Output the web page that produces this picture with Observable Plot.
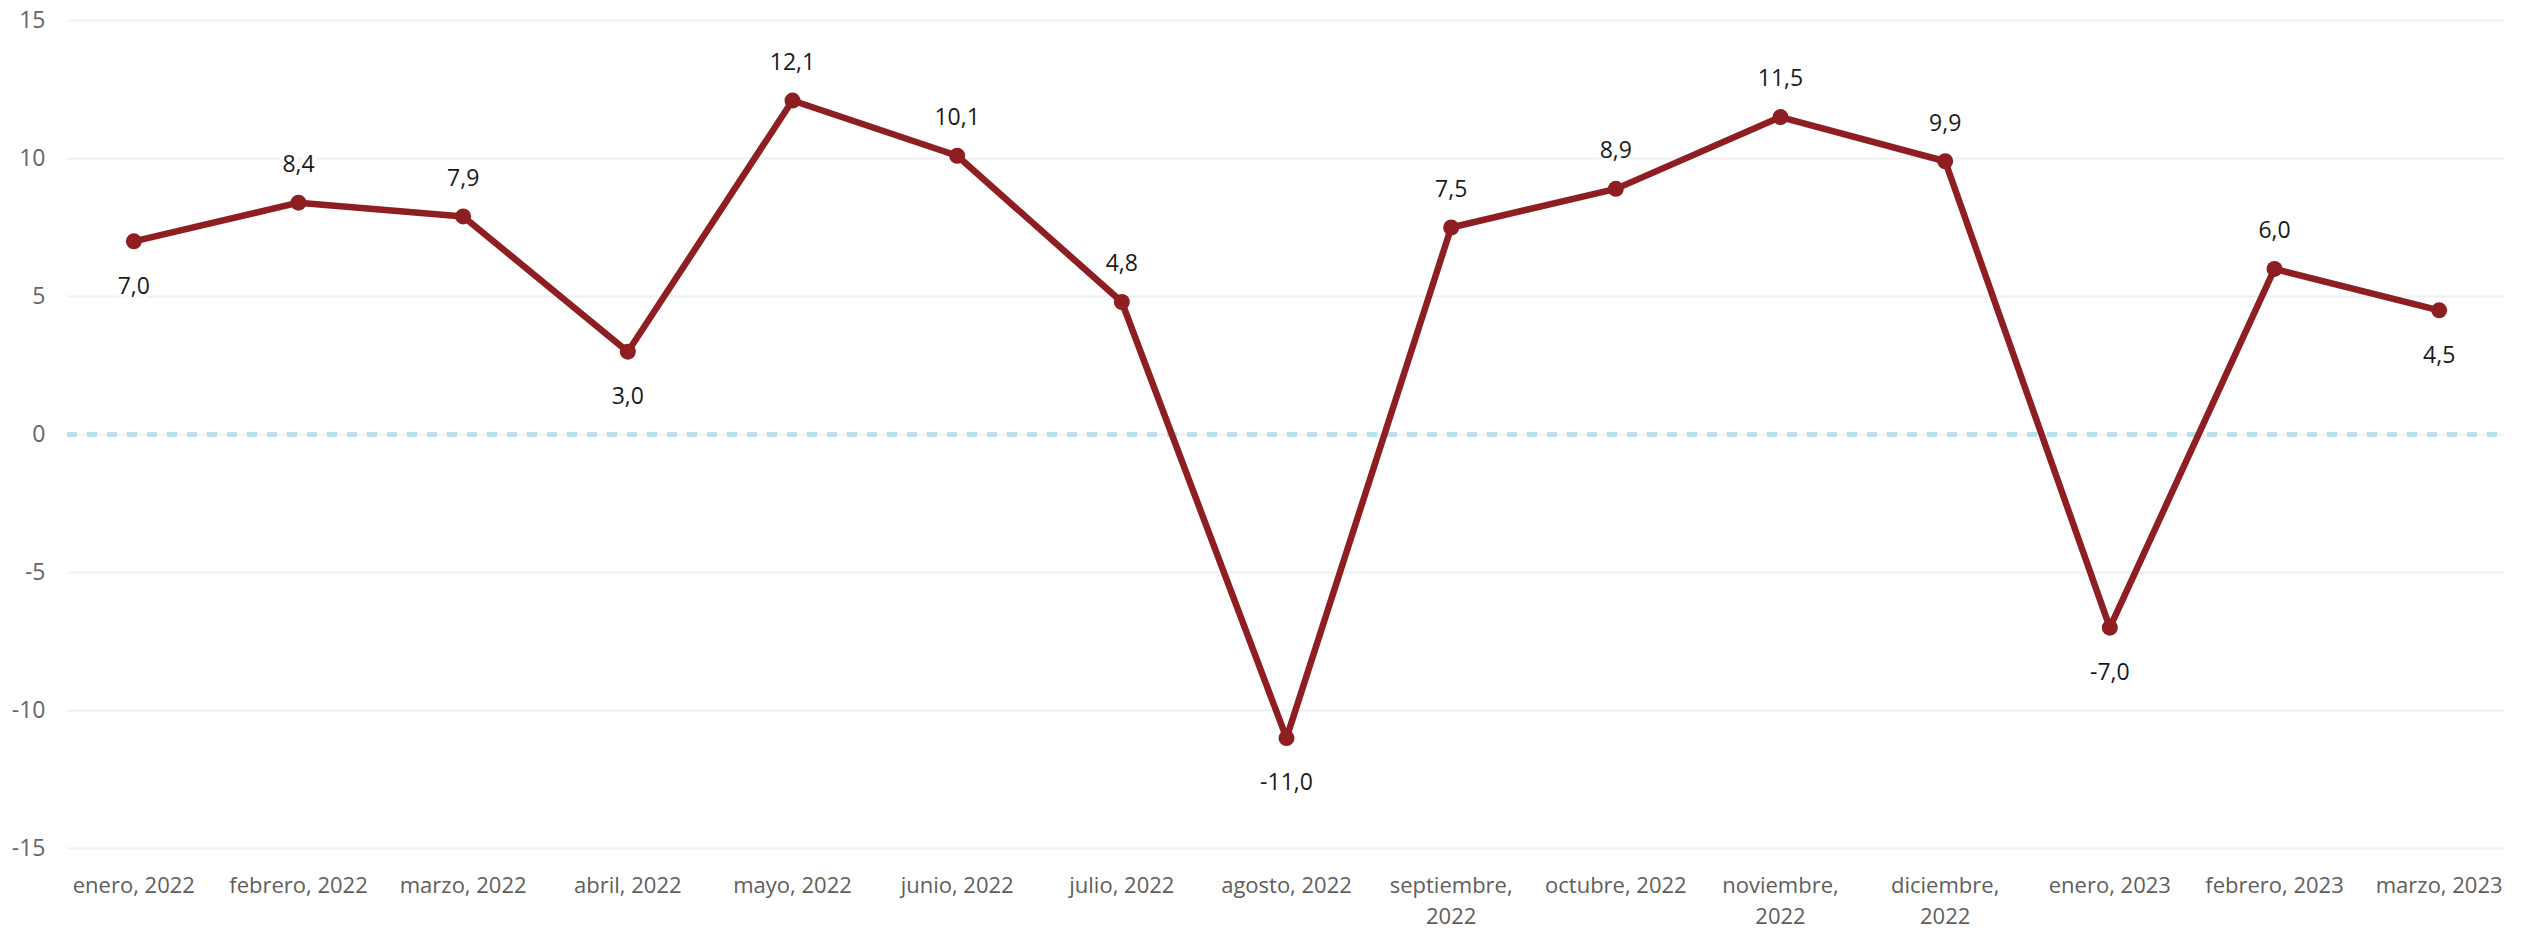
<!DOCTYPE html>
<html>
<head>
<meta charset="utf-8">
<script src="https://cdn.jsdelivr.net/npm/d3@7"></script>
<script src="https://cdn.jsdelivr.net/npm/@observablehq/plot@0.6"></script>
<style>
  html, body { margin: 0; padding: 0; background: #fff; overflow: hidden; }
  #chart svg { display: block; }
</style>
</head>
<body>
<div id="chart"></div>
<script>
const months = [
  "enero, 2022", "febrero, 2022", "marzo, 2022", "abril, 2022", "mayo, 2022",
  "junio, 2022", "julio, 2022", "agosto, 2022", "septiembre,\n2022", "octubre, 2022",
  "noviembre,\n2022", "diciembre,\n2022", "enero, 2023", "febrero, 2023", "marzo, 2023"
];
const values = [7.0, 8.4, 7.9, 3.0, 12.1, 10.1, 4.8, -11.0, 7.5, 8.9, 11.5, 9.9, -7.0, 6.0, 4.5];
const yTicks = [-15, -10, -5, 0, 5, 10, 15];

const data = months.map((m, i) => {
  const prev = i > 0 ? values[i - 1] : Infinity;
  const next = i < values.length - 1 ? values[i + 1] : Infinity;
  const v = values[i];
  return { month: m, value: v, below: v < prev && v < next };
});
const fmt = v => v.toFixed(1).replace(".", ",");

const chart = Plot.plot({
  width: 2525,
  height: 932,
  marginLeft: 51,
  marginRight: 4,
  marginTop: 20,
  marginBottom: 84,
  style: { fontFamily: "'Segoe UI', 'Open Sans', sans-serif", background: "#fff", maxWidth: "none" },
  x: { type: "band", domain: months, padding: 0, round: false },
  y: { domain: [-15, 15] },
  marks: [
    Plot.ruleY(yTicks, { stroke: "#F0F0F0", strokeWidth: 2, insetLeft: 16, insetRight: 16 }),
    Plot.ruleY([0], { stroke: "#B7E2EC", strokeWidth: 5, strokeDasharray: "10,10", insetLeft: 16, insetRight: 24 }),
    Plot.axisY({ ticks: yTicks, tickSize: 0, tickPadding: 6, tickFormat: d => String(d), fontSize: 23, fill: "#666666", label: null }),
    Plot.axisX({ tickSize: 0, tickPadding: 23, fontSize: 22, fill: "#605E5C", lineHeight: 1.4, label: null }),
    Plot.line(data, { x: "month", y: "value", stroke: "#8E1E21", strokeWidth: 6.5, strokeLinejoin: "round" }),
    Plot.dot(data, { x: "month", y: "value", r: 8, fill: "#8E1E21" }),
    Plot.text(data, {
      x: "month", y: "value", text: d => fmt(d.value),
      fontSize: 23, fill: "#1a1a1a",
      stroke: "white", strokeWidth: 8, strokeOpacity: 0.8,
      filter: d => !d.below, dy: -38
    }),
    Plot.text(data, {
      x: "month", y: "value", text: d => fmt(d.value),
      fontSize: 23, fill: "#1a1a1a",
      stroke: "white", strokeWidth: 8, strokeOpacity: 0.8,
      filter: d => d.below, dy: 45
    })
  ]
});
document.getElementById("chart").appendChild(chart);
</script>
</body>
</html>
